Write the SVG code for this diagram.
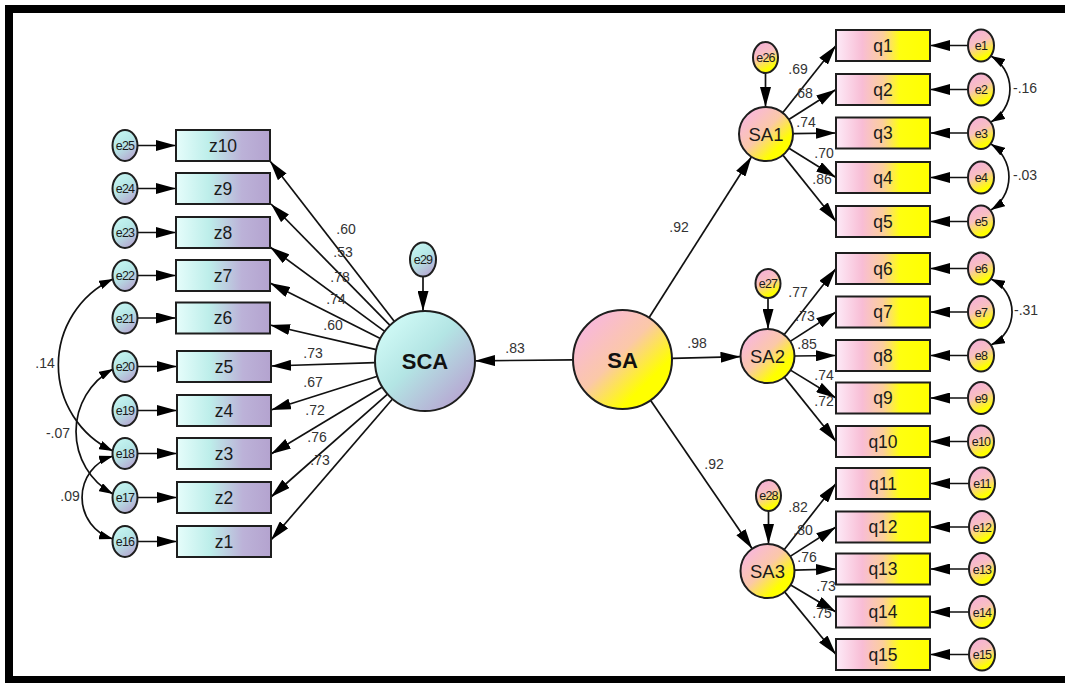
<svg xmlns="http://www.w3.org/2000/svg" width="1065" height="683" viewBox="0 0 1065 683">
<defs>
<linearGradient id="gzr" x1="0" y1="0" x2="1" y2="0">
<stop offset="0" stop-color="#e6fdfb"/><stop offset="0.35" stop-color="#bdeeea"/><stop offset="0.7" stop-color="#bcb2d8"/><stop offset="1" stop-color="#b4a3cf"/>
</linearGradient>
<linearGradient id="gze" x1="0.2" y1="0" x2="0.8" y2="1">
<stop offset="0" stop-color="#c6f6f2"/><stop offset="0.45" stop-color="#b5e6e6"/><stop offset="1" stop-color="#b6a2cf"/>
</linearGradient>
<linearGradient id="gzc" x1="0.1" y1="0.1" x2="0.9" y2="0.9">
<stop offset="0" stop-color="#d2fbf7"/><stop offset="0.45" stop-color="#b3e5e4"/><stop offset="1" stop-color="#b7a3d1"/>
</linearGradient>
<linearGradient id="gqr" x1="0" y1="0" x2="1" y2="0">
<stop offset="0" stop-color="#fdebf8"/><stop offset="0.28" stop-color="#f8bdd5"/><stop offset="0.5" stop-color="#fcce9c"/><stop offset="0.68" stop-color="#ffff10"/><stop offset="1" stop-color="#ffff00"/>
</linearGradient>
<linearGradient id="gqe" x1="0.3" y1="0" x2="0.7" y2="1">
<stop offset="0" stop-color="#f6b0d8"/><stop offset="0.4" stop-color="#f8c0c0"/><stop offset="0.85" stop-color="#ffff00"/><stop offset="1" stop-color="#ffff00"/>
</linearGradient>
<linearGradient id="gqc" x1="0.1" y1="0.1" x2="0.9" y2="0.9">
<stop offset="0" stop-color="#f8b6e0"/><stop offset="0.45" stop-color="#fbc8a8"/><stop offset="0.8" stop-color="#ffff00"/><stop offset="1" stop-color="#ffff00"/>
</linearGradient>
<marker id="ah" markerUnits="userSpaceOnUse" markerWidth="20" markerHeight="11" refX="20" refY="5.5" orient="auto"><path d="M0,0 L20,5.5 L0,11 Z" fill="#000"/></marker>
<marker id="ch" markerUnits="userSpaceOnUse" markerWidth="14" markerHeight="9" refX="14" refY="4.5" orient="auto-start-reverse"><path d="M0,0 L14,4.5 L0,9 Z" fill="#000"/></marker>
<style>
.s{stroke:#1e1e1e;stroke-width:2}
.zr{fill:url(#gzr)}.ze{fill:url(#gze)}.zc{fill:url(#gzc)}
.qr{fill:url(#gqr)}.qe{fill:url(#gqe)}.qc{fill:url(#gqc)}
text{font-family:"Liberation Sans",Arial,sans-serif;fill:#1a1a1a;text-anchor:middle}
.ob{font-size:17.5px}
.er{font-size:12.5px;letter-spacing:-0.8px}
.lat{font-size:22px;font-weight:bold;fill:#111}
.sub{font-size:18.5px}
.ld{font-size:14px;fill:#333}
.cl{font-size:14px;fill:#333;text-anchor:start}
.cn{stroke:#111;stroke-width:1.7;fill:none;marker-end:url(#ah)}
.cv{stroke:#111;stroke-width:1.7;fill:none;marker-start:url(#ch);marker-end:url(#ch)}
</style>
</defs>
<rect x="0" y="0" width="1065" height="683" fill="#fff"/>
<g id="frame" fill="#000">
<rect x="5" y="5" width="1060" height="8"/>
<rect x="5" y="5" width="8" height="678"/>
<rect x="5" y="676" width="1060" height="7"/>
</g>

<g id="connectors">
<line class="cn" x1="137.5" y1="145.5" x2="176" y2="145.5"/>
<line class="cn" x1="137.5" y1="188.5" x2="176" y2="188.5"/>
<line class="cn" x1="137.5" y1="232.5" x2="176" y2="232.5"/>
<line class="cn" x1="137.5" y1="275.5" x2="176" y2="275.5"/>
<line class="cn" x1="137.5" y1="318" x2="176" y2="318"/>
<line class="cn" x1="137.5" y1="366.5" x2="177" y2="366.5"/>
<line class="cn" x1="137.5" y1="410.5" x2="177" y2="410.5"/>
<line class="cn" x1="137.5" y1="453.5" x2="177" y2="453.5"/>
<line class="cn" x1="137.5" y1="497.5" x2="177" y2="497.5"/>
<line class="cn" x1="137.5" y1="541.5" x2="177" y2="541.5"/>
<line class="cn" x1="394.4" y1="321.5" x2="270" y2="161"/>
<line class="cn" x1="390" y1="325.3" x2="271" y2="204"/>
<line class="cn" x1="384.7" y1="331.4" x2="270" y2="247"/>
<line class="cn" x1="380.3" y1="338.5" x2="270" y2="283"/>
<line class="cn" x1="376.3" y1="349.7" x2="270" y2="325"/>
<line class="cn" x1="375" y1="362.6" x2="271" y2="366"/>
<line class="cn" x1="377.4" y1="376.2" x2="271" y2="410"/>
<line class="cn" x1="382.3" y1="387" x2="271" y2="454"/>
<line class="cn" x1="387.6" y1="394.2" x2="271" y2="497"/>
<line class="cn" x1="392.5" y1="399" x2="271" y2="540"/>
<line class="cn" x1="423" y1="276.5" x2="423" y2="311"/>
<line class="cn" x1="573" y1="359.9" x2="475" y2="360.8"/>
<line class="cn" x1="649" y1="317.7" x2="751.5" y2="156.8"/>
<line class="cn" x1="672" y1="358.3" x2="740.5" y2="356.7"/>
<line class="cn" x1="650.5" y1="400.3" x2="752.2" y2="548.7"/>
<line class="cn" x1="765.5" y1="73" x2="765.5" y2="107"/>
<line class="cn" x1="782.7" y1="112.8" x2="836" y2="45.5"/>
<line class="cn" x1="788.8" y1="119.5" x2="836" y2="89.5"/>
<line class="cn" x1="793" y1="133.6" x2="836" y2="133"/>
<line class="cn" x1="789" y1="148.3" x2="836" y2="177.5"/>
<line class="cn" x1="782.9" y1="155.1" x2="836" y2="221.5"/>
<line class="cn" x1="768" y1="298" x2="768" y2="329"/>
<line class="cn" x1="784.1" y1="334.7" x2="836" y2="268.5"/>
<line class="cn" x1="790.2" y1="341.4" x2="836" y2="312"/>
<line class="cn" x1="794.5" y1="356" x2="836" y2="355.5"/>
<line class="cn" x1="790.5" y1="370.1" x2="836" y2="398"/>
<line class="cn" x1="784.4" y1="377.1" x2="836" y2="441.5"/>
<line class="cn" x1="768.5" y1="511" x2="768.5" y2="544"/>
<line class="cn" x1="784.1" y1="549.7" x2="836" y2="483.5"/>
<line class="cn" x1="790.2" y1="556.4" x2="836" y2="527"/>
<line class="cn" x1="794.5" y1="570.2" x2="836" y2="569"/>
<line class="cn" x1="790.7" y1="584.9" x2="836" y2="612"/>
<line class="cn" x1="784.6" y1="591.9" x2="836" y2="654.5"/>
<line class="cn" x1="968" y1="45.5" x2="930" y2="45.5"/>
<line class="cn" x1="968" y1="89.5" x2="930" y2="89.5"/>
<line class="cn" x1="968" y1="133" x2="930" y2="133"/>
<line class="cn" x1="968" y1="177.5" x2="930" y2="177.5"/>
<line class="cn" x1="968" y1="221.5" x2="930" y2="221.5"/>
<line class="cn" x1="968" y1="268.5" x2="930" y2="268.5"/>
<line class="cn" x1="968" y1="312" x2="930" y2="312"/>
<line class="cn" x1="968" y1="355.5" x2="930" y2="355.5"/>
<line class="cn" x1="968" y1="398" x2="930" y2="398"/>
<line class="cn" x1="968" y1="441.5" x2="930" y2="441.5"/>
<line class="cn" x1="969" y1="483.5" x2="930" y2="483.5"/>
<line class="cn" x1="969" y1="527" x2="930" y2="527"/>
<line class="cn" x1="969" y1="569" x2="930" y2="569"/>
<line class="cn" x1="969" y1="612" x2="930" y2="612"/>
<line class="cn" x1="969" y1="654.5" x2="930" y2="654.5"/>
<path class="cv" d="M113,279 A95,95 0 0 0 113,451"/>
<path class="cv" d="M113,369 A71.3,71.3 0 0 0 113,494"/>
<path class="cv" d="M113,456 A43.3,43.3 0 0 0 113,539"/>
<path class="cv" d="M991,56 A38.2,38.2 0 0 1 991,122"/>
<path class="cv" d="M991,144 A39.3,39.3 0 0 1 991,210"/>
<path class="cv" d="M991,279 A36.4,36.4 0 0 1 991,345"/>
<text class="ld" x="346" y="234">.60</text>
<text class="ld" x="343" y="257">.53</text>
<text class="ld" x="340" y="282">.78</text>
<text class="ld" x="336" y="304">.74</text>
<text class="ld" x="333" y="330">.60</text>
<text class="ld" x="313" y="358">.73</text>
<text class="ld" x="313" y="387">.67</text>
<text class="ld" x="315" y="415">.72</text>
<text class="ld" x="317" y="442">.76</text>
<text class="ld" x="320" y="465">.73</text>
<text class="ld" x="515" y="353">.83</text>
<text class="ld" x="679" y="232">.92</text>
<text class="ld" x="697" y="348">.98</text>
<text class="ld" x="714" y="469">.92</text>
<text class="ld" x="798" y="74">.69</text>
<text class="ld" x="803" y="98">.68</text>
<text class="ld" x="806" y="127">.74</text>
<text class="ld" x="824" y="158">.70</text>
<text class="ld" x="822" y="184">.86</text>
<text class="ld" x="798" y="297">.77</text>
<text class="ld" x="805" y="321">.73</text>
<text class="ld" x="807" y="349">.85</text>
<text class="ld" x="824" y="380">.74</text>
<text class="ld" x="824" y="406">.72</text>
<text class="ld" x="798" y="512">.82</text>
<text class="ld" x="803" y="535">.80</text>
<text class="ld" x="807" y="562">.76</text>
<text class="ld" x="826" y="591">.73</text>
<text class="ld" x="822" y="618">.75</text>
<text class="ld" x="45" y="368">.14</text>
<text class="ld" x="58" y="438">-.07</text>
<text class="ld" x="70" y="501">.09</text>
<text class="cl" x="1013" y="93">-.16</text>
<text class="cl" x="1013" y="180">-.03</text>
<text class="cl" x="1014" y="315">-.31</text>
</g>

<g id="SCA"><circle class="s zc" cx="425" cy="361" r="50"/><text class="lat" x="425" y="369">SCA</text></g>
<g id="e29"><ellipse class="s ze" cx="423" cy="259.5" rx="13" ry="17"/><text class="er" x="423" y="264">e29</text></g>
<g id="SA"><circle class="s qc" cx="622.5" cy="359.5" r="49.5"/><text class="lat" x="622.5" y="367.5">SA</text></g>
<g id="SA1"><circle class="s qc" cx="766" cy="134" r="27"/><text class="sub" x="766" y="140.5">SA1</text></g>
<g id="SA2"><circle class="s qc" cx="767.5" cy="356" r="27"/><text class="sub" x="767.5" y="362.5">SA2</text></g>
<g id="SA3"><circle class="s qc" cx="767.5" cy="571" r="27"/><text class="sub" x="767.5" y="577.5">SA3</text></g>
<g id="e26"><ellipse class="s qe" cx="765.5" cy="57.5" rx="12.5" ry="15.5"/><text class="er" x="765.5" y="62">e26</text></g>
<g id="e27"><ellipse class="s qe" cx="768" cy="283.5" rx="12.5" ry="14.5"/><text class="er" x="768" y="288">e27</text></g>
<g id="e28"><ellipse class="s qe" cx="768.5" cy="495.5" rx="12.5" ry="15.5"/><text class="er" x="768.5" y="500">e28</text></g>

<g id="z10"><rect class="s zr" x="176" y="130" width="94" height="31"/><text class="ob" x="223" y="151.5">z10</text></g>
<g id="z9"><rect class="s zr" x="176" y="173" width="94" height="31"/><text class="ob" x="223" y="194.5">z9</text></g>
<g id="z8"><rect class="s zr" x="176" y="217" width="94" height="31"/><text class="ob" x="223" y="238.5">z8</text></g>
<g id="z7"><rect class="s zr" x="176" y="260" width="94" height="31"/><text class="ob" x="223" y="281.5">z7</text></g>
<g id="z6"><rect class="s zr" x="176" y="302.5" width="94" height="31"/><text class="ob" x="223" y="324">z6</text></g>
<g id="z5"><rect class="s zr" x="177" y="351" width="94" height="31"/><text class="ob" x="224" y="372.5">z5</text></g>
<g id="z4"><rect class="s zr" x="177" y="395" width="94" height="31"/><text class="ob" x="224" y="416.5">z4</text></g>
<g id="z3"><rect class="s zr" x="177" y="438" width="94" height="31"/><text class="ob" x="224" y="459.5">z3</text></g>
<g id="z2"><rect class="s zr" x="177" y="482" width="94" height="31"/><text class="ob" x="224" y="503.5">z2</text></g>
<g id="z1"><rect class="s zr" x="177" y="526" width="94" height="31"/><text class="ob" x="224" y="547.5">z1</text></g>

<g id="e25"><ellipse class="s ze" cx="125" cy="145.5" rx="12.5" ry="15.5"/><text class="er" x="125" y="150">e25</text></g>
<g id="e24"><ellipse class="s ze" cx="125" cy="188.5" rx="12.5" ry="15.5"/><text class="er" x="125" y="193">e24</text></g>
<g id="e23"><ellipse class="s ze" cx="125" cy="232.5" rx="12.5" ry="15.5"/><text class="er" x="125" y="237">e23</text></g>
<g id="e22"><ellipse class="s ze" cx="125" cy="275.5" rx="12.5" ry="15.5"/><text class="er" x="125" y="280">e22</text></g>
<g id="e21"><ellipse class="s ze" cx="125" cy="318" rx="12.5" ry="15.5"/><text class="er" x="125" y="322.5">e21</text></g>
<g id="e20"><ellipse class="s ze" cx="125" cy="366.5" rx="12.5" ry="15.5"/><text class="er" x="125" y="371">e20</text></g>
<g id="e19"><ellipse class="s ze" cx="125" cy="410.5" rx="12.5" ry="15.5"/><text class="er" x="125" y="415">e19</text></g>
<g id="e18"><ellipse class="s ze" cx="125" cy="453.5" rx="12.5" ry="15.5"/><text class="er" x="125" y="458">e18</text></g>
<g id="e17"><ellipse class="s ze" cx="125" cy="497.5" rx="12.5" ry="15.5"/><text class="er" x="125" y="502">e17</text></g>
<g id="e16"><ellipse class="s ze" cx="125" cy="541.5" rx="12.5" ry="15.5"/><text class="er" x="125" y="546">e16</text></g>

<g id="q1"><rect class="s qr" x="836" y="30" width="94" height="31"/><text class="ob" x="883" y="51.5">q1</text></g>
<g id="q2"><rect class="s qr" x="836" y="74" width="94" height="31"/><text class="ob" x="883" y="95.5">q2</text></g>
<g id="q3"><rect class="s qr" x="836" y="117.5" width="94" height="31"/><text class="ob" x="883" y="139">q3</text></g>
<g id="q4"><rect class="s qr" x="836" y="162" width="94" height="31"/><text class="ob" x="883" y="183.5">q4</text></g>
<g id="q5"><rect class="s qr" x="836" y="206" width="94" height="31"/><text class="ob" x="883" y="227.5">q5</text></g>
<g id="q6"><rect class="s qr" x="836" y="253" width="94" height="31"/><text class="ob" x="883" y="274.5">q6</text></g>
<g id="q7"><rect class="s qr" x="836" y="296.5" width="94" height="31"/><text class="ob" x="883" y="318">q7</text></g>
<g id="q8"><rect class="s qr" x="836" y="340" width="94" height="31"/><text class="ob" x="883" y="361.5">q8</text></g>
<g id="q9"><rect class="s qr" x="836" y="382.5" width="94" height="31"/><text class="ob" x="883" y="404">q9</text></g>
<g id="q10"><rect class="s qr" x="836" y="426" width="94" height="31"/><text class="ob" x="883" y="447.5">q10</text></g>
<g id="q11"><rect class="s qr" x="836" y="468" width="94" height="31"/><text class="ob" x="883" y="489.5">q11</text></g>
<g id="q12"><rect class="s qr" x="836" y="511.5" width="94" height="31"/><text class="ob" x="883" y="533">q12</text></g>
<g id="q13"><rect class="s qr" x="836" y="553.5" width="94" height="31"/><text class="ob" x="883" y="575">q13</text></g>
<g id="q14"><rect class="s qr" x="836" y="596.5" width="94" height="31"/><text class="ob" x="883" y="618">q14</text></g>
<g id="q15"><rect class="s qr" x="836" y="639" width="94" height="31"/><text class="ob" x="883" y="660.5">q15</text></g>

<g id="e1"><ellipse class="s qe" cx="981" cy="45.5" rx="13" ry="16"/><text class="er" x="981" y="50">e1</text></g>
<g id="e2"><ellipse class="s qe" cx="981" cy="89.5" rx="13" ry="16"/><text class="er" x="981" y="94">e2</text></g>
<g id="e3"><ellipse class="s qe" cx="981" cy="133" rx="13" ry="16"/><text class="er" x="981" y="137.5">e3</text></g>
<g id="e4"><ellipse class="s qe" cx="981" cy="177.5" rx="13" ry="16"/><text class="er" x="981" y="182">e4</text></g>
<g id="e5"><ellipse class="s qe" cx="981" cy="221.5" rx="13" ry="16"/><text class="er" x="981" y="226">e5</text></g>
<g id="e6"><ellipse class="s qe" cx="981" cy="268.5" rx="13" ry="16"/><text class="er" x="981" y="273">e6</text></g>
<g id="e7"><ellipse class="s qe" cx="981" cy="312" rx="13" ry="16"/><text class="er" x="981" y="316.5">e7</text></g>
<g id="e8"><ellipse class="s qe" cx="981" cy="355.5" rx="13" ry="16"/><text class="er" x="981" y="360">e8</text></g>
<g id="e9"><ellipse class="s qe" cx="981" cy="398" rx="13" ry="16"/><text class="er" x="981" y="402.5">e9</text></g>
<g id="e10"><ellipse class="s qe" cx="981" cy="441.5" rx="13" ry="16"/><text class="er" x="981" y="446">e10</text></g>
<g id="e11"><ellipse class="s qe" cx="982" cy="483.5" rx="13" ry="16"/><text class="er" x="982" y="488">e11</text></g>
<g id="e12"><ellipse class="s qe" cx="982" cy="527" rx="13" ry="16"/><text class="er" x="982" y="531.5">e12</text></g>
<g id="e13"><ellipse class="s qe" cx="982" cy="569" rx="13" ry="16"/><text class="er" x="982" y="573.5">e13</text></g>
<g id="e14"><ellipse class="s qe" cx="982" cy="612" rx="13" ry="16"/><text class="er" x="982" y="616.5">e14</text></g>
<g id="e15"><ellipse class="s qe" cx="982" cy="654.5" rx="13" ry="16"/><text class="er" x="982" y="659">e15</text></g>
</svg>
